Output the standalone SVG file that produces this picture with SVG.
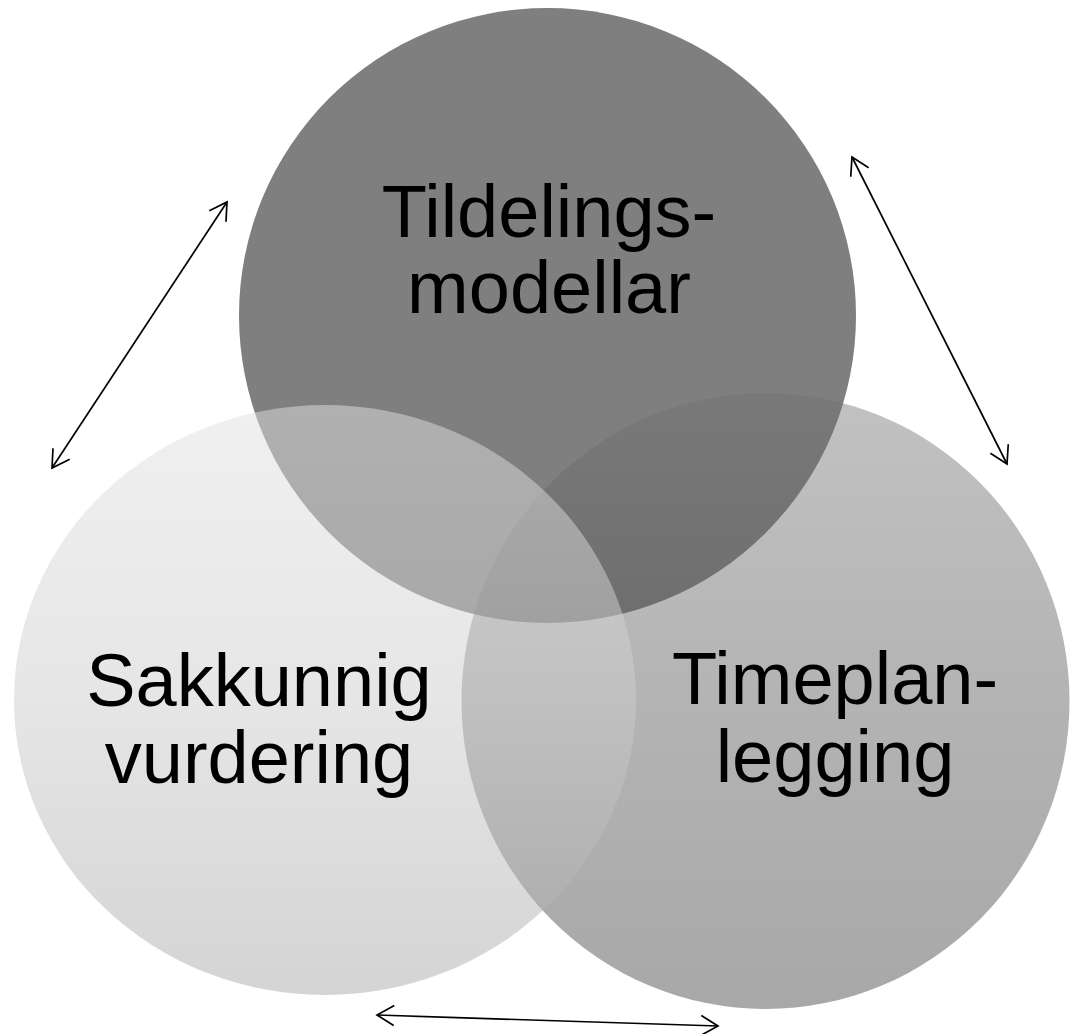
<svg xmlns="http://www.w3.org/2000/svg" width="1071" height="1034" viewBox="0 0 1071 1034">
  <defs>
    <style>
      .label { font-family: "Liberation Sans", Arial, sans-serif; font-size: 74px; fill: #000000; text-anchor: middle; }
      .conn { stroke: #000000; stroke-width: 1.7; fill: none; marker-start: url(#arrow); marker-end: url(#arrow); }
    </style>
    <linearGradient id="gradLeft" x1="0" y1="0" x2="0" y2="1">
      <stop offset="0" stop-color="#e1e1e1"/>
      <stop offset="0.5" stop-color="#cdcdcd"/>
      <stop offset="1" stop-color="#a9a9a9"/>
    </linearGradient>
    <linearGradient id="gradRight" x1="0" y1="0" x2="0" y2="1">
      <stop offset="0" stop-color="#717171"/>
      <stop offset="0.5" stop-color="#505050"/>
      <stop offset="1" stop-color="#353535"/>
    </linearGradient>
    <marker id="arrow" viewBox="-19 -12 21 24" refX="0" refY="0" markerWidth="21" markerHeight="24" markerUnits="userSpaceOnUse" orient="auto-start-reverse" overflow="visible">
      <path d="M-17,-10 L0,0 L-17,10" fill="none" stroke="#000000" stroke-width="1.7"/>
    </marker>
  </defs>
  <rect x="0" y="0" width="1071" height="1034" fill="#ffffff"/>

  <g id="node-tildelingsmodellar">
    <ellipse cx="547.5" cy="315.5" rx="308.5" ry="307.5" fill="#7f7f7f"/>
    <text class="label" x="549" y="237">Tildelings-</text>
    <text class="label" x="549" y="313">modellar</text>
  </g>

  <g id="node-timeplanlegging">
    <ellipse cx="765.5" cy="701" rx="304" ry="308" fill="url(#gradRight)" fill-opacity="0.43"/>
    <text class="label" x="835" y="704">Timeplan-</text>
    <text class="label" x="835" y="782">legging</text>
  </g>

  <g id="node-sakkunnig-vurdering">
    <ellipse cx="325" cy="700" rx="311" ry="295" fill="url(#gradLeft)" fill-opacity="0.5"/>
    <text class="label" x="259" y="706">Sakkunnig</text>
    <text class="label" x="259" y="783">vurdering</text>
  </g>

  <g id="connectors">
    <line class="conn" x1="52" y1="468" x2="227" y2="202"/>
    <line class="conn" x1="852" y1="157" x2="1007" y2="464"/>
    <line class="conn" x1="377" y1="1015" x2="718" y2="1026"/>
  </g>
</svg>
